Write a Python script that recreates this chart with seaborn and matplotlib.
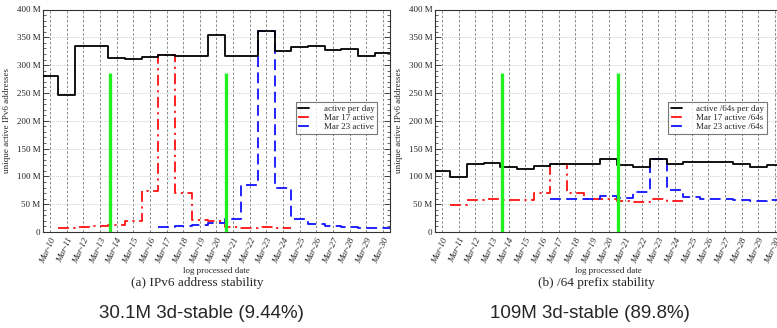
import numpy as np
import pandas as pd
import matplotlib
matplotlib.use("Agg")
import matplotlib.pyplot as plt
from matplotlib import font_manager
from matplotlib.ticker import MultipleLocator, FuncFormatter
import seaborn as sns

# Log dates (Mar-10 .. Mar-30)
days = [f"Mar-{d}" for d in range(10, 31)]

# (a) unique active IPv6 addresses, millions
addr_daily = [280, 246, 335, 335, 313, 311, 314, 319, 316, 316, 355,
              316, 317, 362, 326, 332, 334, 328, 329, 317, 321]
addr_mar17 = [6.6, 9, 10.8, 13, 20, 73, 318, 71, 21, 19, 8.4, 7, 9.6, 6.6]   # Mar-11 .. Mar-24
addr_mar23 = [9.6, 11, 12, 16.7, 24, 84, 362, 80, 23, 14, 11, 8.4, 7, 6.6]   # Mar-17 .. Mar-30

# (b) unique active /64 prefixes, millions
p64_daily = [110, 98, 123, 124, 117, 113, 119, 122, 122, 122.5, 132,
             120, 117, 132, 122.5, 125, 126, 126, 123, 117, 121]
p64_mar17 = [49, 57, 58.6, 57.4, 58, 71, 122.5, 71, 60, 60, 55, 54, 58.6, 55]
p64_mar23 = [59, 59, 60, 64, 61, 72, 132, 75, 63, 60, 60, 58, 55, 57]

mar17_start = days.index("Mar-11")
mar23_start = days.index("Mar-17")

# 3-day window boundaries and their height (millions)
window_marks = [3.6, 10.55]
window_top = 286

captions = ["(a) IPv6 address stability", "(b) /64 prefix stability"]
summaries = ["30.1M 3d-stable (9.44%)", "109M 3d-stable (89.8%)"]
legend_labels = [["active per day", "Mar 17 active", "Mar 23 active"],
                 ["active /64s per day", "Mar 17 active /64s", "Mar 23 active /64s"]]

sns.set_theme(style="ticks")
plt.rcParams["font.family"] = ["Liberation Serif", "DejaVu Serif"]

# Condensed sans for the summary lines, if available
installed = {f.name for f in font_manager.fontManager.ttflist}
if "Liberation Sans Narrow" in installed:
    summary_font, summary_size = "Liberation Sans Narrow", 15.5
else:
    summary_font, summary_size = "Liberation Sans", 13.5


def stair_frame(values, start):
    """Edges-based frame so each day's value spans +/- half a day."""
    edges = np.arange(len(values) + 1) + start - 0.5
    vals = list(values) + [values[-1]]
    return pd.DataFrame({"x": edges, "y": vals})


fig = plt.figure(figsize=(7.77, 3.28), dpi=100)
positions = [[43 / 777, 96 / 328, 347 / 777, 222.5 / 328],
             [435 / 777, 96 / 328, 347 / 777, 222.5 / 328]]
panels = [(addr_daily, addr_mar17, addr_mar23), (p64_daily, p64_mar17, p64_mar23)]

for i, (daily, s17, s23) in enumerate(panels):
    ax = fig.add_axes(positions[i])
    ax.set_xlim(-0.42, 20.42)
    ax.set_ylim(0, 400)

    ax.yaxis.set_major_locator(MultipleLocator(50))
    ax.yaxis.set_minor_locator(MultipleLocator(10))
    ax.yaxis.set_major_formatter(FuncFormatter(lambda v, p: "0" if v == 0 else f"{int(v)} M"))
    ax.set_xticks(range(len(days)))
    ax.set_xticklabels(days, rotation=65, ha="right", rotation_mode="anchor",
                       fontsize=6.5, style="italic")
    ax.tick_params(axis="y", which="both", direction="in", right=True, labelsize=6.5, pad=2)
    ax.tick_params(axis="y", which="major", length=4, width=0.6)
    ax.tick_params(axis="y", which="minor", length=2, width=0.5)
    ax.tick_params(axis="x", direction="in", top=True, length=0, pad=3)

    for x in range(len(days)):
        ax.axvline(x, color="#888888", lw=0.7, ls=(0, (2.5, 2)), zorder=0)
    for y in range(50, 400, 50):
        ax.axhline(y, color="#bbbbbb", lw=0.6, ls=(0, (1, 1.5)), zorder=0)

    sns.lineplot(data=stair_frame(daily, 0), x="x", y="y", ax=ax, color="black",
                 lw=1.3, drawstyle="steps-post", label=legend_labels[i][0], zorder=4)
    sns.lineplot(data=stair_frame(s17, mar17_start), x="x", y="y", ax=ax, color="#ff1010",
                 lw=1.3, drawstyle="steps-post", label=legend_labels[i][1],
                 zorder=3).lines[-1].set_linestyle((0, (6, 2.5, 1.2, 2.5)))
    sns.lineplot(data=stair_frame(s23, mar23_start), x="x", y="y", ax=ax, color="#1010ff",
                 lw=1.3, drawstyle="steps-post", label=legend_labels[i][2],
                 zorder=3).lines[-1].set_linestyle((0, (6, 3)))

    ax.vlines(window_marks, 0, window_top, color="#22ee22", lw=2.4, zorder=5)

    for s in ax.spines.values():
        s.set_linewidth(0.8)
        s.set_color("#333333")

    ax.set_ylabel("unique active IPv6 addresses", fontsize=6.5)
    ax.yaxis.set_label_coords(-0.093, 0.5)
    ax.set_xlabel("log processed date", fontsize=6.5, labelpad=2)

    leg = ax.legend(loc="upper right", bbox_to_anchor=(0.9625 if i == 0 else 0.957, 0.585),
                    fontsize=6.5, frameon=True, fancybox=False, handlelength=1.2,
                    handletextpad=1.6, borderpad=0.3, labelspacing=0.1, borderaxespad=0)
    leg.get_frame().set_edgecolor("#555555")
    leg.get_frame().set_linewidth(0.8)

fig.text(197 / 777, 1 - 283 / 328, captions[0], ha="center", va="center", fontsize=9.5)
fig.text(596 / 777, 1 - 283 / 328, captions[1], ha="center", va="center", fontsize=9.5)
for x, s in zip([201, 590], summaries):
    fig.text(x / 777, 1 - 314 / 328, s, ha="center", va="center", fontsize=summary_size,
             family=[summary_font, "DejaVu Sans"])

fig.savefig("out.png", dpi=100)
